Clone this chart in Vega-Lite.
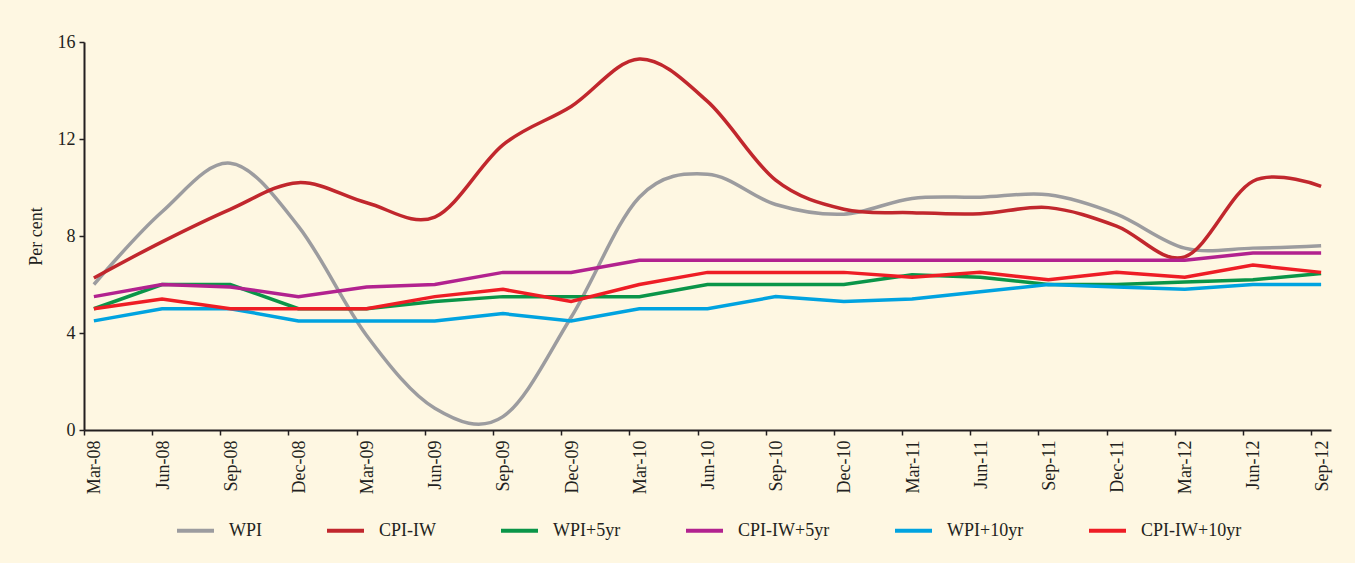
{
  "$schema": "https://vega.github.io/schema/vega-lite/v6.json",
  "autosize": {"type": "none"},
  "padding": {"left": 84, "top": 42, "right": 24, "bottom": 133},
  "width": 1247,
  "height": 388,
  "background": "#fef7e2",
  "config": {
    "view": {"stroke": null},
    "font": "Liberation Serif",
    "axis": {"labelFont": "Liberation Serif", "titleFont": "Liberation Serif", "labelColor": "#231f20", "titleColor": "#231f20", "domainColor": "#231f20", "tickColor": "#231f20"}
  },
  "data": {"values": [
    {"q":"Mar-08","s":"WPI","v":6.0},{"q":"Jun-08","s":"WPI","v":9.0},{"q":"Sep-08","s":"WPI","v":11.0},{"q":"Dec-08","s":"WPI","v":8.4},{"q":"Mar-09","s":"WPI","v":3.9},{"q":"Jun-09","s":"WPI","v":0.9},{"q":"Sep-09","s":"WPI","v":0.55},{"q":"Dec-09","s":"WPI","v":4.65},{"q":"Mar-10","s":"WPI","v":9.6},{"q":"Jun-10","s":"WPI","v":10.55},{"q":"Sep-10","s":"WPI","v":9.3},{"q":"Dec-10","s":"WPI","v":8.9},{"q":"Mar-11","s":"WPI","v":9.55},{"q":"Jun-11","s":"WPI","v":9.6},{"q":"Sep-11","s":"WPI","v":9.7},{"q":"Dec-11","s":"WPI","v":8.9},{"q":"Mar-12","s":"WPI","v":7.5},{"q":"Jun-12","s":"WPI","v":7.5},{"q":"Sep-12","s":"WPI","v":7.6},
    {"q":"Mar-08","s":"CPI-IW","v":6.27},{"q":"Jun-08","s":"CPI-IW","v":7.76},{"q":"Sep-08","s":"CPI-IW","v":9.1},{"q":"Dec-08","s":"CPI-IW","v":10.2},{"q":"Mar-09","s":"CPI-IW","v":9.37},{"q":"Jun-09","s":"CPI-IW","v":8.78},{"q":"Sep-09","s":"CPI-IW","v":11.76},{"q":"Dec-09","s":"CPI-IW","v":13.34},{"q":"Mar-10","s":"CPI-IW","v":15.3},{"q":"Jun-10","s":"CPI-IW","v":13.55},{"q":"Sep-10","s":"CPI-IW","v":10.3},{"q":"Dec-10","s":"CPI-IW","v":9.1},{"q":"Mar-11","s":"CPI-IW","v":8.96},{"q":"Jun-11","s":"CPI-IW","v":8.92},{"q":"Sep-11","s":"CPI-IW","v":9.17},{"q":"Dec-11","s":"CPI-IW","v":8.41},{"q":"Mar-12","s":"CPI-IW","v":7.14},{"q":"Jun-12","s":"CPI-IW","v":10.26},{"q":"Sep-12","s":"CPI-IW","v":10.05},
    {"q":"Mar-08","s":"WPI+5yr","v":5.0},{"q":"Jun-08","s":"WPI+5yr","v":6.0},{"q":"Sep-08","s":"WPI+5yr","v":6.0},{"q":"Dec-08","s":"WPI+5yr","v":5.0},{"q":"Mar-09","s":"WPI+5yr","v":5.0},{"q":"Jun-09","s":"WPI+5yr","v":5.3},{"q":"Sep-09","s":"WPI+5yr","v":5.5},{"q":"Dec-09","s":"WPI+5yr","v":5.5},{"q":"Mar-10","s":"WPI+5yr","v":5.5},{"q":"Jun-10","s":"WPI+5yr","v":6.0},{"q":"Sep-10","s":"WPI+5yr","v":6.0},{"q":"Dec-10","s":"WPI+5yr","v":6.0},{"q":"Mar-11","s":"WPI+5yr","v":6.4},{"q":"Jun-11","s":"WPI+5yr","v":6.3},{"q":"Sep-11","s":"WPI+5yr","v":6.0},{"q":"Dec-11","s":"WPI+5yr","v":6.0},{"q":"Mar-12","s":"WPI+5yr","v":6.1},{"q":"Jun-12","s":"WPI+5yr","v":6.2},{"q":"Sep-12","s":"WPI+5yr","v":6.45},
    {"q":"Mar-08","s":"CPI-IW+5yr","v":5.5},{"q":"Jun-08","s":"CPI-IW+5yr","v":6.0},{"q":"Sep-08","s":"CPI-IW+5yr","v":5.9},{"q":"Dec-08","s":"CPI-IW+5yr","v":5.5},{"q":"Mar-09","s":"CPI-IW+5yr","v":5.9},{"q":"Jun-09","s":"CPI-IW+5yr","v":6.0},{"q":"Sep-09","s":"CPI-IW+5yr","v":6.5},{"q":"Dec-09","s":"CPI-IW+5yr","v":6.5},{"q":"Mar-10","s":"CPI-IW+5yr","v":7.0},{"q":"Jun-10","s":"CPI-IW+5yr","v":7.0},{"q":"Sep-10","s":"CPI-IW+5yr","v":7.0},{"q":"Dec-10","s":"CPI-IW+5yr","v":7.0},{"q":"Mar-11","s":"CPI-IW+5yr","v":7.0},{"q":"Jun-11","s":"CPI-IW+5yr","v":7.0},{"q":"Sep-11","s":"CPI-IW+5yr","v":7.0},{"q":"Dec-11","s":"CPI-IW+5yr","v":7.0},{"q":"Mar-12","s":"CPI-IW+5yr","v":7.0},{"q":"Jun-12","s":"CPI-IW+5yr","v":7.3},{"q":"Sep-12","s":"CPI-IW+5yr","v":7.3},
    {"q":"Mar-08","s":"WPI+10yr","v":4.5},{"q":"Jun-08","s":"WPI+10yr","v":5.0},{"q":"Sep-08","s":"WPI+10yr","v":5.0},{"q":"Dec-08","s":"WPI+10yr","v":4.5},{"q":"Mar-09","s":"WPI+10yr","v":4.5},{"q":"Jun-09","s":"WPI+10yr","v":4.5},{"q":"Sep-09","s":"WPI+10yr","v":4.8},{"q":"Dec-09","s":"WPI+10yr","v":4.5},{"q":"Mar-10","s":"WPI+10yr","v":5.0},{"q":"Jun-10","s":"WPI+10yr","v":5.0},{"q":"Sep-10","s":"WPI+10yr","v":5.5},{"q":"Dec-10","s":"WPI+10yr","v":5.3},{"q":"Mar-11","s":"WPI+10yr","v":5.4},{"q":"Jun-11","s":"WPI+10yr","v":5.7},{"q":"Sep-11","s":"WPI+10yr","v":6.0},{"q":"Dec-11","s":"WPI+10yr","v":5.9},{"q":"Mar-12","s":"WPI+10yr","v":5.8},{"q":"Jun-12","s":"WPI+10yr","v":6.0},{"q":"Sep-12","s":"WPI+10yr","v":6.0},
    {"q":"Mar-08","s":"CPI-IW+10yr","v":5.0},{"q":"Jun-08","s":"CPI-IW+10yr","v":5.4},{"q":"Sep-08","s":"CPI-IW+10yr","v":5.0},{"q":"Dec-08","s":"CPI-IW+10yr","v":5.0},{"q":"Mar-09","s":"CPI-IW+10yr","v":5.0},{"q":"Jun-09","s":"CPI-IW+10yr","v":5.5},{"q":"Sep-09","s":"CPI-IW+10yr","v":5.8},{"q":"Dec-09","s":"CPI-IW+10yr","v":5.3},{"q":"Mar-10","s":"CPI-IW+10yr","v":6.0},{"q":"Jun-10","s":"CPI-IW+10yr","v":6.5},{"q":"Sep-10","s":"CPI-IW+10yr","v":6.5},{"q":"Dec-10","s":"CPI-IW+10yr","v":6.5},{"q":"Mar-11","s":"CPI-IW+10yr","v":6.3},{"q":"Jun-11","s":"CPI-IW+10yr","v":6.5},{"q":"Sep-11","s":"CPI-IW+10yr","v":6.2},{"q":"Dec-11","s":"CPI-IW+10yr","v":6.5},{"q":"Mar-12","s":"CPI-IW+10yr","v":6.3},{"q":"Jun-12","s":"CPI-IW+10yr","v":6.8},{"q":"Sep-12","s":"CPI-IW+10yr","v":6.5}
  ]},
  "encoding": {
    "x": {
      "field": "q", "type": "ordinal",
      "sort": ["Mar-08","Jun-08","Sep-08","Dec-08","Mar-09","Jun-09","Sep-09","Dec-09","Mar-10","Jun-10","Sep-10","Dec-10","Mar-11","Jun-11","Sep-11","Dec-11","Mar-12","Jun-12","Sep-12"],
      "scale": {"type": "point", "padding": 0.145},
      "axis": {"title": null, "labelAngle": -90, "labelFontSize": 18, "labelPadding": 5, "tickSize": 5, "tickWidth": 1.5, "domainWidth": 2, "tickOffset": -10, "labelOffset": 11, "grid": false}
    },
    "y": {
      "field": "v", "type": "quantitative",
      "scale": {"domain": [0, 16], "nice": false, "zero": true},
      "axis": {"title": "Per cent", "values": [0,4,8,12,16], "grid": false, "labelFontSize": 18, "titleFontSize": 18, "titleFontWeight": "normal", "labelPadding": 4, "tickSize": 5, "tickWidth": 1.5, "domainWidth": 2, "titlePadding": 12}
    },
    "color": {
      "field": "s", "type": "nominal",
      "scale": {"domain": ["WPI","CPI-IW","WPI+5yr","CPI-IW+5yr","WPI+10yr","CPI-IW+10yr"], "range": ["#9c9c9f","#c1272d","#0a9548","#b2228f","#00a3e0","#ee1d25"]},
      "legend": {"orient": "none", "legendX": 91, "legendY": 468, "direction": "horizontal", "title": null, "symbolType": "stroke", "symbolSize": 1369, "symbolStrokeWidth": 4, "labelFontSize": 18, "labelFont": "Liberation Serif", "labelColor": "#231f20", "labelOffset": 13, "columnPadding": 57, "padding": 0}
    }
  },
  "layer": [
    {
      "transform": [{"filter": {"field": "s", "oneOf": ["WPI", "CPI-IW"]}}],
      "mark": {"type": "line", "interpolate": "cardinal", "tension": 0, "strokeWidth": 3.5}
    },
    {
      "transform": [{"filter": {"field": "s", "oneOf": ["WPI+5yr","CPI-IW+5yr","WPI+10yr","CPI-IW+10yr"]}}],
      "mark": {"type": "line", "strokeWidth": 3.5}
    }
  ]
}
